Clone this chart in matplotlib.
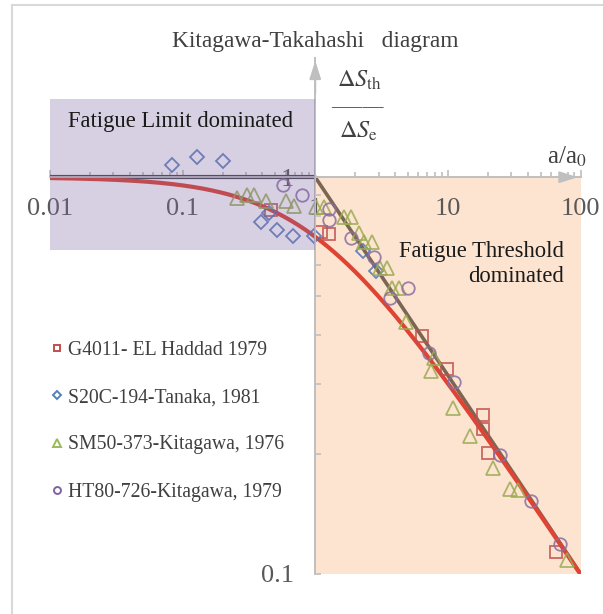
import numpy as np
import matplotlib
matplotlib.use("Agg")
import matplotlib.pyplot as plt
from matplotlib.patches import Rectangle
from matplotlib.ticker import FixedLocator, NullFormatter
from matplotlib.lines import Line2D

# ---------------- data ----------------
x_ticks = [0.01, 0.1, 1, 10, 100]
x_tick_labels = ["0.01", "0.1", "1", "10", "100"]
y_ticks = [0.1, 1]
y_tick_labels = ["0.1", "1"]

g4011_x = [0.463, 1.11, 1.275, 6.39, 9.86, 18.3, 18.3, 19.96, 64.8]
g4011_y = [0.827, 0.726, 0.72, 0.397, 0.329, 0.2506, 0.232, 0.2018, 0.1133]

s20c_x = [0.0838, 0.129, 0.20, 0.389, 0.45, 0.514, 0.674, 0.98, 2.275, 2.87]
s20c_y = [1.074, 1.127, 1.101, 0.773, 0.811, 0.734, 0.711, 0.711, 0.652, 0.579]

sm50_x = [0.255, 0.308, 0.347, 0.425, 0.601, 0.694, 1.02, 1.17, 1.655, 1.87,
          2.13, 2.34, 2.67, 3.07, 3.46, 3.79, 4.25, 4.86, 7.91, 7.47,
          10.87, 14.7, 21.8, 29.6, 33.7, 79.4]
sm50_y = [0.885, 0.903, 0.903, 0.872, 0.872, 0.848, 0.843, 0.839, 0.792, 0.792,
          0.723, 0.688, 0.688, 0.590, 0.590, 0.526, 0.526, 0.432, 0.35, 0.325,
          0.262, 0.222, 0.185, 0.163, 0.162, 0.108]

ht80_x = [0.567, 0.794, 1.275, 1.26, 1.86, 2.76, 5.03, 3.66, 7.25, 11.2, 24.8, 42, 70.6]
ht80_y = [0.956, 0.903, 0.831, 0.78, 0.703, 0.628, 0.526, 0.497, 0.361, 0.304, 0.199, 0.152, 0.119]

# Fatigue-limit line and LEFM threshold line (slope -1/2)
limit_x = [0.01, 1]
limit_y = [1, 1]
lefm_x = [1, 100]
lefm_y = [1, 0.1]

# El Haddad curve: dS_th/dS_e = 1/sqrt(1 + a/a0)
haddad_x = np.logspace(-2, 2, 300)
haddad_y = 1.0 / np.sqrt(1.0 + haddad_x)

series_labels = ["G4011- EL Haddad 1979", "S20C-194-Tanaka, 1981",
                 "SM50-373-Kitagawa, 1976", "HT80-726-Kitagawa, 1979"]

# ---------------- figure ----------------
plt.rcParams['font.family'] = ['Liberation Serif', 'DejaVu Serif']
plt.rcParams['mathtext.fontset'] = 'stix'

W, H = 603, 614
fig = plt.figure(figsize=(W / 100, H / 100), dpi=100)

def fx(px):
    return px / W

def fy(py):
    return 1 - py / H

ax = fig.add_axes([fx(50), fy(573.5), (580.5 - 50) / W, (573.5 - 57.9) / H])
ax.set_xscale('log')
ax.set_yscale('log')
ax.set_xlim(0.01, 100)
ax.set_ylim(0.1, 2.0)
ax.patch.set_visible(False)

# background regions
ax.add_patch(Rectangle((1, 0.1), 99, 0.9, facecolor='#fde4d1', edgecolor='none', zorder=0))
ax.add_patch(Rectangle((0.01, 0.6556), 0.99, 1.571 - 0.6556, facecolor='#7c62a0',
                       alpha=0.30, edgecolor='none', zorder=6))

# lines
ax.plot(limit_x, limit_y, color='#474450', lw=3.0, zorder=2, solid_capstyle='butt')
ax.plot(lefm_x, lefm_y, color='#7b6654', lw=2.6, zorder=2)
ax.plot(haddad_x, haddad_y, color='#de4333', lw=3.0, zorder=3)

# markers
mew = 1.3
ax.plot(g4011_x, g4011_y, 's', ms=8.8, mfc='none', mec='#c0504d', mew=mew, alpha=0.85, zorder=4)
ax.plot(s20c_x, s20c_y, 'D', ms=7.0, mfc='none', mec='#4f73b8', mew=mew, alpha=0.85, zorder=4)
ax.plot(sm50_x, sm50_y, '^', ms=9.8, mfc='none', mec='#9bab52', mew=mew, alpha=0.85, zorder=4)
ax.plot(ht80_x, ht80_y, 'o', ms=9.0, mfc='none', mec='#8a6ea0', mew=mew, alpha=0.85, zorder=4)

# axes / spines
for s in ['top', 'right']:
    ax.spines[s].set_visible(False)
ax.spines['bottom'].set_position(('data', 1))
ax.spines['left'].set_position(('data', 1))
for s in ['bottom', 'left']:
    ax.spines[s].set_color('#bfbfbf')
    ax.spines[s].set_linewidth(1.4)
    ax.spines[s].set_zorder(5)

ax.xaxis.set_major_locator(FixedLocator(x_ticks))
ax.set_xticklabels(x_tick_labels)
ax.xaxis.set_minor_locator(FixedLocator([m * 10.0 ** e for e in range(-2, 2) for m in range(2, 10)]))
ax.xaxis.set_minor_formatter(NullFormatter())
ax.yaxis.set_major_locator(FixedLocator(y_ticks))
ax.set_yticklabels(y_tick_labels)
ax.yaxis.set_minor_locator(FixedLocator([m * 0.1 for m in range(2, 10)]))
ax.yaxis.set_minor_formatter(NullFormatter())

ax.tick_params(axis='both', which='both', direction='in', color='#bfbfbf', width=1.2,
               labelcolor='#595959', labelsize=19)
ax.tick_params(axis='x', which='major', length=5, pad=15)
ax.tick_params(axis='x', which='minor', length=3.5)
ax.tick_params(axis='y', which='major', length=4, pad=15)
ax.tick_params(axis='y', which='minor', length=4)

# arrows on axes
ax.annotate('', xy=(100, 1), xytext=(70, 1),
            arrowprops=dict(arrowstyle='-|>,head_length=1.1,head_width=0.35',
                            color='#bfbfbf', lw=1.4), zorder=5)
ax.annotate('', xy=(1, 2.0), xytext=(1, 1.6),
            arrowprops=dict(arrowstyle='-|>,head_length=1.1,head_width=0.35',
                            color='#bfbfbf', lw=1.4), zorder=5)

# region labels
fig.text(fx(68), fy(121), "Fatigue Limit dominated", fontsize=16.3, color='#1a1a1a',
         ha='left', va='center')
fig.text(fx(564), fy(264), "Fatigue Threshold\ndominated", fontsize=16.3, color='#1a1a1a',
         ha='right', va='center', linespacing=1.25)

# title and axis labels
fig.text(fx(315), fy(41), "Kitagawa-Takahashi   diagram", fontsize=16.8, color='#404040',
         ha='center', va='center')
fig.text(fx(337), fy(80), r"$\Delta S_{\mathrm{th}}$", fontsize=17.5, color='#404040',
         ha='left', va='center')
fig.text(fx(331), fy(101), "_____", fontsize=15, color='#404040', ha='left', va='center')
fig.text(fx(339), fy(131), r"$\Delta S_{\mathrm{e}}$", fontsize=17.5, color='#404040',
         ha='left', va='center')
fig.text(fx(567), fy(157), r"a/a$_0$", fontsize=18, color='#404040',
         ha='center', va='center')

# legend
handles = [
    Line2D([], [], ls='none', marker='s', ms=5, mfc='none', mec='#c0504d', mew=1.4),
    Line2D([], [], ls='none', marker='D', ms=4, mfc='none', mec='#4f81bd', mew=1.4),
    Line2D([], [], ls='none', marker='^', ms=5.5, mfc='none', mec='#9bbb59', mew=1.4),
    Line2D([], [], ls='none', marker='o', ms=5, mfc='none', mec='#8064a2', mew=1.4),
]
leg = fig.legend(handles, series_labels, loc='upper left',
                 bbox_to_anchor=(fx(51), fy(341)), frameon=False,
                 fontsize=14.2, handlelength=0.6, handletextpad=0.25,
                 labelspacing=1.43, borderpad=0, borderaxespad=0)
for t in leg.get_texts():
    t.set_color('#404040')

# chart border
fig.patches.append(Rectangle((fx(12), -0.05), 1.0, 1.05 - 5 / H, transform=fig.transFigure,
                             fill=False, edgecolor='#d9d9d9', lw=1.5))

fig.savefig("out.png", dpi=100)
